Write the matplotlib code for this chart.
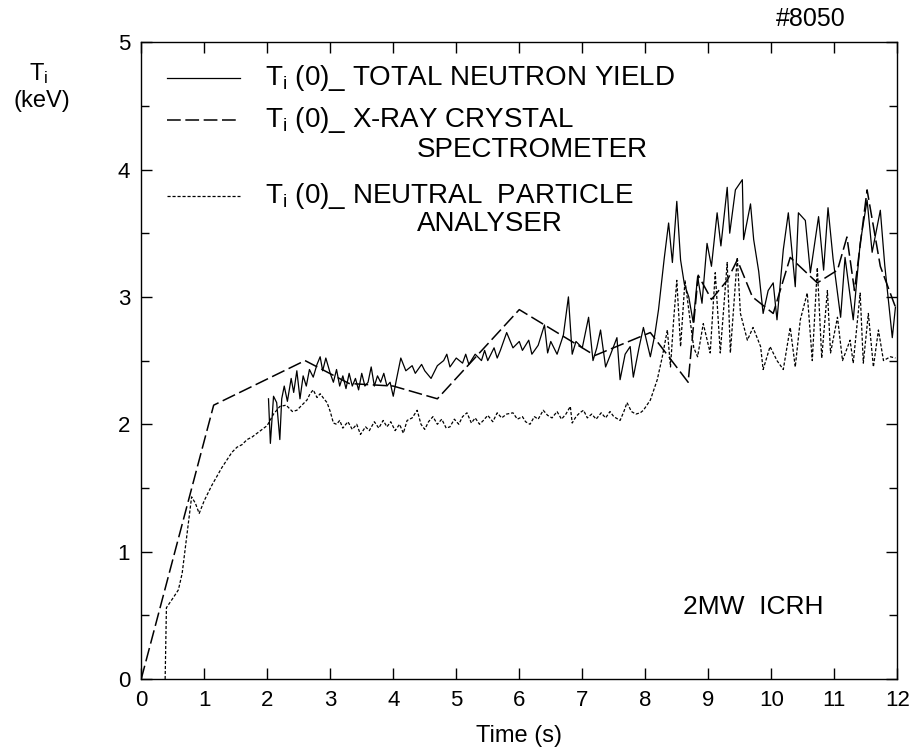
import matplotlib
matplotlib.use("Agg")
import matplotlib.pyplot as plt
from matplotlib.lines import Line2D
from matplotlib.ticker import MultipleLocator

# Ti(0) from total neutron yield (solid)
t_neutron = [2.02, 2.05, 2.10, 2.15, 2.20, 2.23, 2.27, 2.32, 2.38, 2.42,
             2.47, 2.52, 2.57, 2.62, 2.67, 2.73, 2.79, 2.84, 2.88, 2.93,
             3.00, 3.05, 3.10, 3.15, 3.20, 3.25, 3.30, 3.35, 3.40, 3.45,
             3.50, 3.55, 3.60, 3.65, 3.70, 3.75, 3.80, 3.85, 3.90, 3.95,
             4.00, 4.05, 4.12, 4.20, 4.30, 4.35, 4.45, 4.50, 4.60, 4.70,
             4.80, 4.85, 4.90, 5.00, 5.10, 5.15, 5.20, 5.30, 5.40, 5.45,
             5.50, 5.60, 5.65, 5.70, 5.80, 5.90, 6.00, 6.05, 6.15, 6.20,
             6.30, 6.40, 6.45, 6.50, 6.60, 6.70, 6.78, 6.84, 6.90, 7.00,
             7.10, 7.17, 7.23, 7.29, 7.37, 7.45, 7.55, 7.60, 7.68, 7.76,
             7.81, 7.90, 7.97, 8.08, 8.15, 8.21, 8.30, 8.37, 8.43, 8.50,
             8.56, 8.62, 8.69, 8.76, 8.83, 8.90, 8.98, 9.05, 9.14, 9.20,
             9.30, 9.34, 9.43, 9.54, 9.56, 9.67, 9.72, 9.80, 9.87, 9.95,
             10.03, 10.09, 10.19, 10.27, 10.38, 10.43, 10.54, 10.62, 10.75, 10.83,
             10.90, 10.98, 11.10, 11.17, 11.30, 11.41, 11.52, 11.60, 11.73, 11.80,
             11.92, 11.97]
ti_neutron = [2.20, 1.85, 2.22, 2.17, 1.88, 2.20, 2.30, 2.18, 2.36, 2.25,
              2.42, 2.20, 2.38, 2.30, 2.43, 2.37, 2.47, 2.53, 2.42, 2.52,
              2.40, 2.33, 2.43, 2.30, 2.38, 2.28, 2.40, 2.30, 2.36, 2.27,
              2.40, 2.30, 2.33, 2.45, 2.30, 2.38, 2.33, 2.40, 2.30, 2.33,
              2.22, 2.35, 2.52, 2.42, 2.46, 2.40, 2.47, 2.42, 2.36, 2.46,
              2.50, 2.55, 2.45, 2.52, 2.48, 2.55, 2.47, 2.55, 2.50, 2.58,
              2.50, 2.60, 2.52, 2.58, 2.72, 2.60, 2.65, 2.58, 2.66, 2.55,
              2.62, 2.78, 2.56, 2.65, 2.55, 2.70, 3.00, 2.55, 2.65, 2.60,
              2.84, 2.50, 2.60, 2.74, 2.45, 2.55, 2.68, 2.35, 2.55, 2.61,
              2.37, 2.60, 2.76, 2.53, 2.70, 2.90, 3.30, 3.58, 3.27, 3.75,
              3.29, 3.10, 3.00, 2.80, 3.16, 2.95, 3.42, 3.24, 3.66, 3.40,
              3.86, 3.50, 3.84, 3.92, 3.45, 3.73, 3.45, 3.20, 2.87, 3.05,
              3.11, 2.82, 3.37, 3.66, 3.08, 3.66, 3.60, 3.19, 3.63, 3.21,
              3.70, 3.30, 2.84, 3.31, 2.82, 3.42, 3.76, 3.35, 3.68, 3.25,
              2.68, 2.92]

# Ti(0) from X-ray crystal spectrometer (long dashes)
t_xray = [0.00, 1.15, 2.60, 3.30, 4.00, 4.70, 6.00, 7.20, 8.08, 8.68,
          8.84, 9.05, 9.30, 9.46, 9.70, 10.03, 10.30, 10.73, 11.05, 11.20,
          11.32, 11.52, 11.73, 11.97]
ti_xray = [0.00, 2.15, 2.50, 2.32, 2.30, 2.20, 2.90, 2.54, 2.72, 2.33,
           3.17, 2.98, 3.13, 3.29, 3.00, 2.87, 3.31, 3.11, 3.21, 3.47,
           3.05, 3.84, 3.24, 2.92]

# Ti(0) from neutral particle analyser (short dashes)
t_npa = [0.38, 0.40, 0.51, 0.59, 0.65, 0.73, 0.80, 0.86, 0.92, 1.00,
         1.05, 1.12, 1.20, 1.28, 1.36, 1.44, 1.52, 1.60, 1.68, 1.76,
         1.84, 1.92, 2.00, 2.10, 2.20, 2.30, 2.40, 2.47, 2.55, 2.63,
         2.68, 2.73, 2.79, 2.84, 2.90, 2.95, 3.00, 3.05, 3.10, 3.15,
         3.20, 3.28, 3.35, 3.42, 3.48, 3.56, 3.62, 3.70, 3.77, 3.84,
         3.90, 3.96, 4.03, 4.10, 4.16, 4.22, 4.30, 4.38, 4.44, 4.50,
         4.56, 4.63, 4.70, 4.77, 4.84, 4.90, 4.97, 5.04, 5.10, 5.17,
         5.24, 5.30, 5.37, 5.43, 5.50, 5.58, 5.65, 5.72, 5.80, 5.90,
         5.97, 6.05, 6.10, 6.17, 6.24, 6.30, 6.38, 6.45, 6.52, 6.60,
         6.67, 6.74, 6.81, 6.84, 6.90, 6.96, 7.02, 7.08, 7.15, 7.22,
         7.30, 7.37, 7.44, 7.50, 7.60, 7.66, 7.71, 7.78, 7.85, 7.92,
         7.97, 8.08, 8.19, 8.27, 8.35, 8.40, 8.45, 8.50, 8.56, 8.63,
         8.71, 8.77, 8.83, 8.92, 9.03, 9.11, 9.19, 9.30, 9.35, 9.46,
         9.51, 9.62, 9.71, 9.83, 9.87, 9.98, 10.09, 10.19, 10.30, 10.38,
         10.46, 10.57, 10.65, 10.73, 10.80, 10.89, 10.94, 11.05, 11.13, 11.25,
         11.30, 11.41, 11.46, 11.54, 11.62, 11.70, 11.78, 11.89, 11.97]
ti_npa = [0.00, 0.56, 0.64, 0.70, 0.83, 1.15, 1.43, 1.38, 1.30, 1.40,
          1.45, 1.52, 1.59, 1.66, 1.72, 1.78, 1.82, 1.84, 1.88, 1.90,
          1.93, 1.96, 1.99, 2.08, 2.14, 2.15, 2.10, 2.11, 2.15, 2.19,
          2.24, 2.27, 2.21, 2.24, 2.20, 2.17, 2.10, 2.01, 2.00, 2.03,
          1.97, 2.02, 1.96, 2.00, 1.92, 1.98, 1.95, 2.02, 1.97, 2.03,
          1.98, 2.02, 1.95, 2.00, 1.93, 2.03, 2.05, 2.11, 2.00, 1.96,
          2.02, 2.06, 2.00, 2.04, 1.97, 1.98, 2.04, 2.00, 2.06, 2.09,
          2.01, 2.05, 2.00, 2.03, 2.07, 2.02, 2.09, 2.05, 2.08, 2.09,
          2.04, 2.06, 2.02, 2.00, 2.06, 2.04, 2.11, 2.07, 2.05, 2.10,
          2.04, 2.08, 2.14, 2.01, 2.06, 2.09, 2.11, 2.05, 2.08, 2.04,
          2.09, 2.05, 2.10, 2.06, 2.03, 2.10, 2.17, 2.10, 2.08, 2.09,
          2.11, 2.19, 2.35, 2.53, 2.74, 2.45, 2.82, 3.13, 2.61, 3.13,
          2.82, 2.60, 2.53, 2.79, 2.56, 3.19, 2.56, 3.27, 2.56, 3.31,
          2.87, 2.66, 2.76, 2.61, 2.43, 2.61, 2.50, 2.43, 2.76, 2.45,
          2.82, 3.03, 2.50, 3.23, 2.52, 3.05, 2.56, 2.84, 2.50, 2.66,
          2.48, 3.03, 2.48, 2.87, 2.45, 2.74, 2.50, 2.53, 2.52]

labels = ["T$_\\mathregular{i}$ (0)_ TOTAL NEUTRON YIELD",
          "T$_\\mathregular{i}$ (0)_ X-RAY CRYSTAL",
          "T$_\\mathregular{i}$ (0)_ NEUTRAL  PARTICLE"]
label_cont = ["", "SPECTROMETER", "ANALYSER"]

plt.rcParams["font.family"] = ["Liberation Sans", "DejaVu Sans"]
plt.rcParams["mathtext.default"] = "regular"

fig = plt.figure(figsize=(9.11, 7.52), dpi=100)
ax = fig.add_axes([0.155, 0.097, 0.830, 0.847])

styles = [dict(linestyle="-", linewidth=0.9),
          dict(linestyle=(0, (9, 3)), linewidth=1.1),
          dict(linestyle=(0, (2.5, 1.5)), linewidth=0.9)]

ax.plot(t_neutron, ti_neutron, color="black", **styles[0])
ax.plot(t_xray, ti_xray, color="black", **styles[1])
ax.plot(t_npa, ti_npa, color="black", **styles[2])

ax.set_xlim(0, 12)
ax.set_ylim(0, 5)
ax.xaxis.set_major_locator(MultipleLocator(1))
ax.yaxis.set_major_locator(MultipleLocator(1))
ax.yaxis.set_minor_locator(MultipleLocator(0.5))
ax.tick_params(which="both", direction="in", top=True, right=True,
               labelsize=16, width=1.0, colors="black")
ax.tick_params(which="major", length=8, pad=8)
ax.tick_params(which="minor", length=6)
for sp in ax.spines.values():
    sp.set_linewidth(1.0)

ax.set_xlabel("Time (s)", fontsize=17, labelpad=10)

# hand drawn style legend
leg_y = [0.944, 0.878, 0.758]
cont_y = [None, 0.830, 0.714]
for i in range(3):
    ax.add_line(Line2D([0.034, 0.131], [leg_y[i], leg_y[i]], transform=ax.transAxes,
                       color="black", **styles[i]))
    ax.text(0.164, leg_y[i], labels[i], transform=ax.transAxes, fontsize=20,
            va="center", ha="left")
    if label_cont[i]:
        ax.text(0.365, cont_y[i], label_cont[i], transform=ax.transAxes, fontsize=20,
                va="center", ha="left")

ax.text(0.716, 0.113, "2MW  ICRH", transform=ax.transAxes, fontsize=19,
        va="center", ha="left")
ax.text(0.931, 1.036, "#8050", transform=ax.transAxes, fontsize=18,
        va="center", ha="right")
ax.text(-0.136, 0.951, "T$_\\mathregular{i}$", transform=ax.transAxes, fontsize=17,
        va="center", ha="center")
ax.text(-0.131, 0.908, "(keV)", transform=ax.transAxes, fontsize=17,
        va="center", ha="center")

fig.savefig("out.png", dpi=100)
